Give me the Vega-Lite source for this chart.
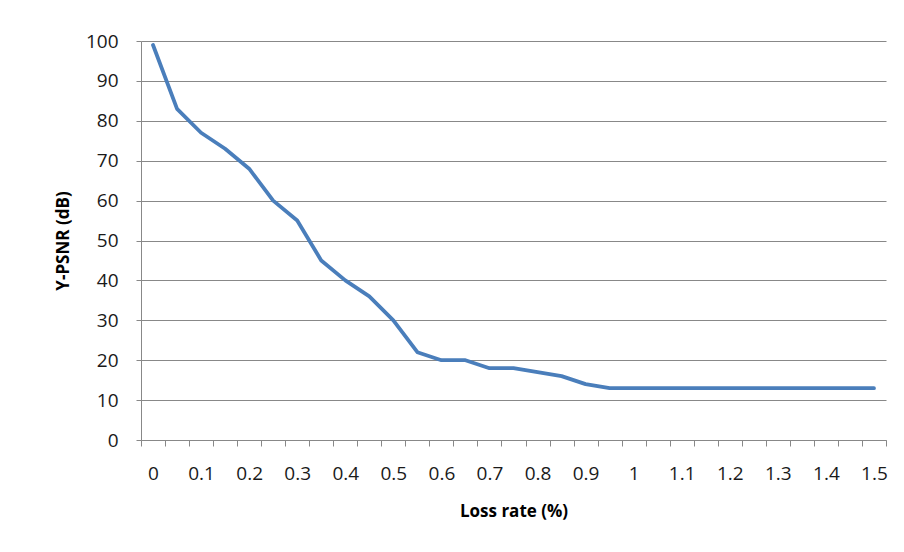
{
  "$schema": "https://vega.github.io/schema/vega-lite/v6.json",
  "width": 745,
  "height": 399,
  "autosize": {"type": "none"},
  "padding": {"left": 141, "top": 41, "right": 18, "bottom": 112},
  "background": "white",
  "config": {"view": {"stroke": null}, "font": "Open Sans"},
  "data": {"values": [
    {"loss": 0, "psnr": 99}, {"loss": 0.05, "psnr": 83}, {"loss": 0.1, "psnr": 77},
    {"loss": 0.15, "psnr": 73}, {"loss": 0.2, "psnr": 68}, {"loss": 0.25, "psnr": 60},
    {"loss": 0.3, "psnr": 55}, {"loss": 0.35, "psnr": 45}, {"loss": 0.4, "psnr": 40},
    {"loss": 0.45, "psnr": 36}, {"loss": 0.5, "psnr": 30}, {"loss": 0.55, "psnr": 22},
    {"loss": 0.6, "psnr": 20}, {"loss": 0.65, "psnr": 20}, {"loss": 0.7, "psnr": 18},
    {"loss": 0.75, "psnr": 18}, {"loss": 0.8, "psnr": 17}, {"loss": 0.85, "psnr": 16},
    {"loss": 0.9, "psnr": 14}, {"loss": 0.95, "psnr": 13}, {"loss": 1, "psnr": 13},
    {"loss": 1.05, "psnr": 13}, {"loss": 1.1, "psnr": 13}, {"loss": 1.15, "psnr": 13},
    {"loss": 1.2, "psnr": 13}, {"loss": 1.25, "psnr": 13}, {"loss": 1.3, "psnr": 13},
    {"loss": 1.35, "psnr": 13}, {"loss": 1.4, "psnr": 13}, {"loss": 1.45, "psnr": 13},
    {"loss": 1.5, "psnr": 13}
  ]},
  "mark": {"type": "line", "color": "#4a7ebb", "strokeWidth": 3.8, "strokeCap": "round", "strokeJoin": "round"},
  "encoding": {
    "x": {
      "field": "loss", "type": "ordinal",
      "scale": {"type": "band", "paddingInner": 0, "paddingOuter": 0},
      "axis": {
        "title": "Loss rate (%)", "titleFontSize": 17, "titleFontWeight": "bold", "titleColor": "#000",
        "titlePadding": 20,
        "labelAngle": 0, "labelFontSize": 19, "labelColor": "#1a1a1a", "labelPadding": 18,
        "labelExpr": "round(datum.value*100) % 10 == 0 ? datum.label : ''",
        "tickBand": "extent", "tickSize": 6, "tickColor": "#888", "domainColor": "#888",
        "grid": false
      }
    },
    "y": {
      "field": "psnr", "type": "quantitative",
      "scale": {"domain": [0, 100], "nice": false},
      "axis": {
        "title": "Y-PSNR (dB)", "titleFontSize": 17, "titleFontWeight": "bold", "titleColor": "#000",
        "titlePadding": 13,
        "values": [0, 10, 20, 30, 40, 50, 60, 70, 80, 90, 100],
        "labelFontSize": 19, "labelColor": "#1a1a1a", "labelPadding": 18,
        "tickSize": 5, "tickColor": "#888", "domainColor": "#888",
        "grid": true, "gridColor": "#888", "gridWidth": 1
      }
    }
  }
}
